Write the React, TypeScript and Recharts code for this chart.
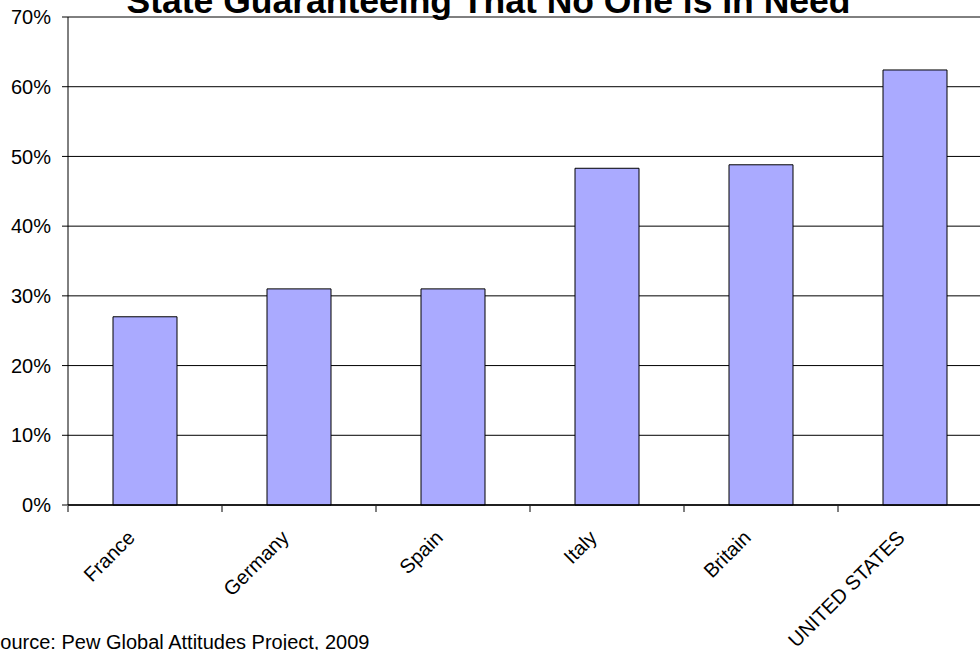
import React from 'react';
import { Bar, BarChart, CartesianGrid, XAxis, YAxis } from 'recharts';

const countries = ['France', 'Germany', 'Spain', 'Italy', 'Britain', 'UNITED STATES'];
const shares = [27, 31, 31, 48.3, 48.8, 62.4];
const yTicks = [0, 10, 20, 30, 40, 50, 60, 70];

const title = 'State Guaranteeing That No One is In Need';
const source = 'Source: Pew Global Attitudes Project, 2009';

const data = countries.map((country, i) => ({ country, share: shares[i] }));

const font = '"Liberation Sans", Arial, sans-serif';

// label rotated like excel, plus the little tick mark on the left edge of each band
function CountryTick(props: any) {
  const { x, y, payload, width, visibleTicksCount } = props;
  const half = payload.offset || width / visibleTicksCount / 2;
  return (
    <g transform={`translate(${x},${y})`}>
      <line x1={-half} x2={-half} y1={1} y2={7} stroke='#000' />
      <text
        x={-9}
        y={34}
        textAnchor='end'
        transform='rotate(-45, -9, 34)'
        fontSize={20}
        fontFamily={font}
        fill='#000'
      >
        {payload.value}
      </text>
    </g>
  );
}

export default function App() {
  return (
    <div
      style={{
        position: 'fixed',
        left: 0,
        top: 0,
        width: 980,
        height: 650,
        overflow: 'hidden',
        background: '#fff',
        fontFamily: font,
      }}
    >
      <BarChart
        width={1000}
        height={650}
        data={data}
        margin={{ top: 17, right: 8, left: 0, bottom: 0 }}
      >
        <CartesianGrid vertical={false} stroke='#000' />
        <XAxis
          dataKey='country'
          interval={0}
          height={145}
          tickSize={0}
          tickMargin={0}
          axisLine={{ stroke: '#000', strokeWidth: 1.5 }}
          tickLine={false}
          tick={<CountryTick />}
        />
        <YAxis
          width={68}
          domain={[0, 70]}
          ticks={yTicks}
          tickFormatter={(v) => `${v}%`}
          tickSize={6}
          tickMargin={11}
          axisLine={{ stroke: '#000' }}
          tickLine={{ stroke: '#000' }}
          tick={{ fontSize: 20, fill: '#000', fontFamily: font }}
        />
        <Bar
          dataKey='share'
          barSize={64}
          fill='#AAAAFF'
          stroke='#000'
          strokeWidth={1}
          isAnimationActive={false}
        />
      </BarChart>
      <svg
        width={980}
        height={650}
        style={{ position: 'absolute', left: 0, top: 0, pointerEvents: 'none' }}
      >
        <text
          x={488.5}
          y={12.5}
          textAnchor='middle'
          fontSize={35.5}
          fontWeight='bold'
          fontFamily={font}
          fill='#000'
        >
          {title}
        </text>
        <text x={-13} y={649} fontSize={20} fontFamily={font} fill='#000'>
          {source}
        </text>
      </svg>
    </div>
  );
}
